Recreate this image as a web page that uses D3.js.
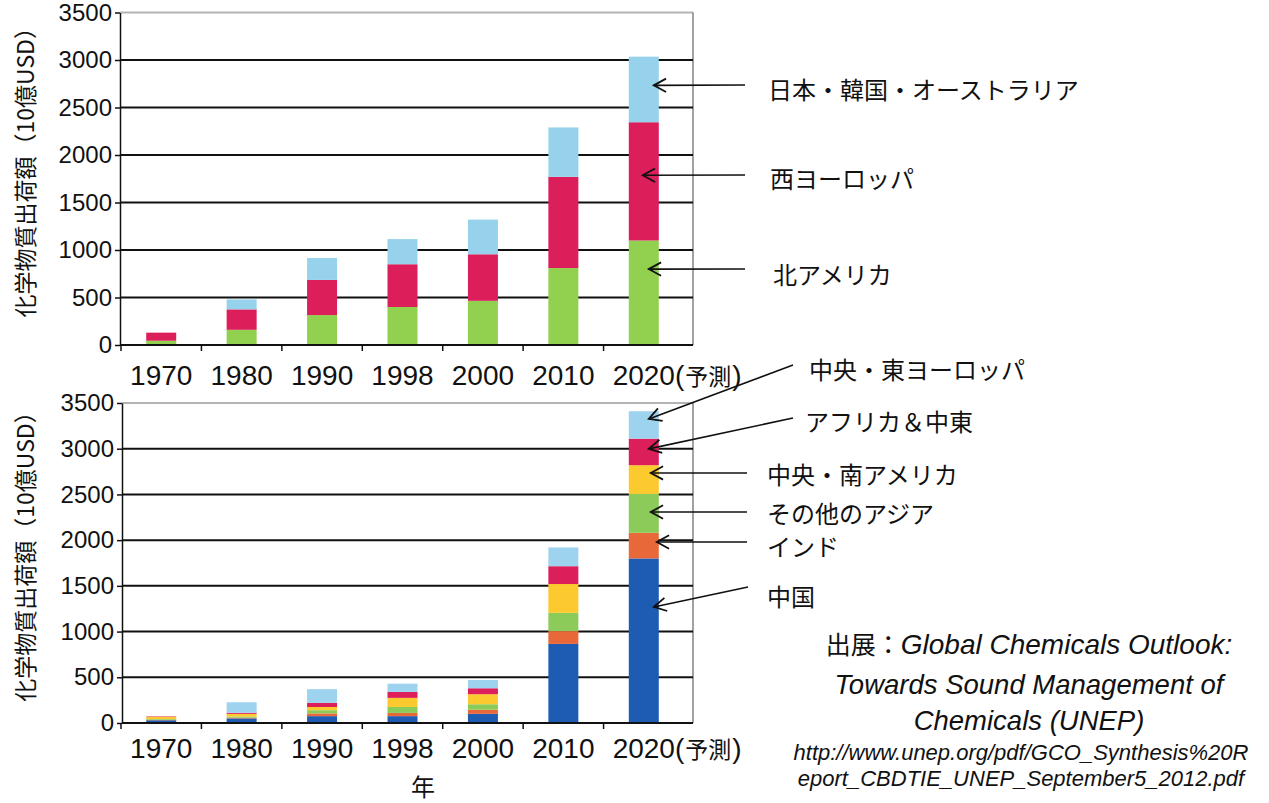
<!DOCTYPE html>
<html>
<head>
<meta charset="utf-8">
<script src="https://cdn.jsdelivr.net/npm/d3@7"></script>
<style>
  body { margin: 0; background: #fff; }
  text { font-family: "Liberation Sans", Arial, "Noto Sans CJK JP", sans-serif; fill: #111; }
  .jp { font-family: "Noto Sans CJK JP", sans-serif; }
</style>
</head>
<body>
<script>
// categories and ticks
const years = ['1970', '1980', '1990', '1998', '2000', '2010', '2020(予測)'];
const yTicks = [0, 500, 1000, 1500, 2000, 2500, 3000, 3500];

// upper chart: developed regions (10億USD)
const topSeries = ['北アメリカ', '西ヨーロッパ', '日本・韓国・オーストラリア'];
const northAmerica = [45, 160, 315, 400, 465, 810, 1100];
const westernEurope = [85, 215, 370, 450, 490, 960, 1245];
const japanKoreaAustralia = [0, 105, 230, 265, 365, 520, 690];

// lower chart: emerging regions (10億USD)
const bottomSeries = ['中国', 'インド', 'その他のアジア', '中央・南アメリカ', 'アフリカ＆中東', '中央・東ヨーロッパ'];
const china = [30, 50, 75, 75, 100, 865, 1800];
const india = [5, 8, 30, 35, 45, 140, 280];
const otherAsia = [8, 12, 35, 65, 60, 200, 425];
const latinAmerica = [25, 30, 35, 100, 110, 315, 315];
const africaMiddleEast = [5, 12, 45, 65, 65, 195, 290];
const centralEastEurope = [0, 115, 150, 90, 90, 205, 300];

const yTitle = '化学物質出荷額（10億USD）';

const svg = d3.select('body')
  .append('svg')
  .attr('width', 1269)
  .attr('height', 803);

const x = d3.scaleBand().domain(years).range([121, 684]);
const frameRight = 693;
const barWidth = 30;

function drawPanel({ axisX, top, bottom, keys, values, colors, labelY }) {
  const y = d3.scaleLinear().domain([0, 3500]).range([bottom, top]);
  const g = svg.append('g');

  const rows = years.map((yr, i) => {
    const r = { year: yr };
    keys.forEach((k, j) => { r[k] = values[j][i]; });
    return r;
  });
  const stacked = d3.stack().keys(keys)(rows);

  // frame
  g.append('line')
    .attr('x1', axisX).attr('x2', frameRight)
    .attr('y1', y(3500)).attr('y2', y(3500))
    .style('stroke', '#b4b4b4').style('stroke-width', 2);
  g.append('line')
    .attr('x1', frameRight).attr('x2', frameRight)
    .attr('y1', y(3500)).attr('y2', y(0))
    .style('stroke', '#444').style('stroke-width', 1);

  // gridlines
  g.selectAll('.grid')
    .data(yTicks.filter(t => t > 0 && t < 3500))
    .join('line')
    .attr('class', 'grid')
    .attr('x1', axisX).attr('x2', frameRight)
    .attr('y1', d => y(d)).attr('y2', d => y(d))
    .style('stroke', '#111').style('stroke-width', 2);

  // bars
  g.selectAll('.layer')
    .data(stacked)
    .join('g')
    .attr('class', 'layer')
    .style('fill', (d, i) => colors[i])
    .selectAll('rect')
    .data(d => d)
    .join('rect')
    .attr('x', d => x(d.data.year) + x.bandwidth() / 2 - barWidth / 2)
    .attr('width', barWidth)
    .attr('y', d => y(d[1]))
    .attr('height', d => y(d[0]) - y(d[1]));

  // y axis
  const yAxis = d3.axisLeft(y)
    .tickValues(yTicks)
    .tickFormat(d3.format('d'))
    .tickSize(5)
    .tickSizeOuter(0)
    .tickPadding(3);
  const ya = g.append('g')
    .attr('transform', `translate(${axisX},0)`)
    .call(yAxis);
  ya.select('.domain').style('stroke', '#111').style('stroke-width', 1.5);
  ya.selectAll('.tick line').style('stroke', '#111').style('stroke-width', 1.5);
  ya.selectAll('.tick text')
    .style('font-size', '24px')
    .style('font-family', '"Liberation Sans", Arial, sans-serif')
    .style('fill', '#111');

  // x axis baseline + ticks at band edges
  g.append('line')
    .attr('x1', axisX).attr('x2', frameRight)
    .attr('y1', y(0)).attr('y2', y(0))
    .style('stroke', '#111').style('stroke-width', 2);
  g.selectAll('.xtick')
    .data(years)
    .join('line')
    .attr('class', 'xtick')
    .attr('x1', d => x(d)).attr('x2', d => x(d))
    .attr('y1', y(0)).attr('y2', y(0) + 6)
    .style('stroke', '#111').style('stroke-width', 1.5);

  // x labels, the year part centred under its bar
  years.forEach(yr => {
    const cx = x(yr) + x.bandwidth() / 2;
    const t = g.append('text')
      .attr('y', labelY)
      .style('font-size', '28px');
    const m = yr.match(/^(\d+)(\()?([^)]*)?(\))?$/);
    t.append('tspan').text(m[1]);
    if (m[2]) {
      t.append('tspan').text('(');
      t.append('tspan').attr('class', 'jp').style('font-size', '23px').attr('dx', 1).text(m[3]);
      t.append('tspan').attr('dx', 1).text(')');
    }
    const w = t.node().getSubStringLength(0, m[1].length);
    t.attr('x', cx - w / 2);
  });

  // y title
  const midY = (y(3500) + y(0)) / 2 - 12;
  g.append('text')
    .attr('class', 'jp')
    .attr('transform', `translate(24,${midY}) rotate(-90)`)
    .attr('text-anchor', 'middle')
    .attr('dominant-baseline', 'central')
    .style('font-size', '23px')
    .text(yTitle);

  return y;
}

function arrow(g, x1, y1, x2, y2) {
  g.append('line')
    .attr('x1', x1).attr('y1', y1).attr('x2', x2).attr('y2', y2)
    .style('stroke', '#111').style('stroke-width', 1.6);
  const a = Math.atan2(y1 - y2, x1 - x2);
  const len = 14, spread = 0.5;
  const head = [
    [x2 + len * Math.cos(a - spread), y2 + len * Math.sin(a - spread)],
    [x2, y2],
    [x2 + len * Math.cos(a + spread), y2 + len * Math.sin(a + spread)]
  ];
  g.append('path')
    .attr('d', d3.line()(head))
    .style('fill', 'none').style('stroke', '#111').style('stroke-width', 1.8);
}

function annotate(y, keys, notes) {
  const g = svg.append('g');
  const last = years[years.length - 1];
  const cx = x(last) + x.bandwidth() / 2;
  notes.forEach(n => {
    arrow(g, n.sx, n.sy, cx + n.dx, y(n.tipV));
    g.append('text')
      .attr('class', 'jp')
      .attr('x', n.lx).attr('y', n.ly)
      .attr('dominant-baseline', 'central')
      .style('font-size', '24px')
      .text(keys[n.k]);
  });
}

const yTop = drawPanel({
  axisX: 120, top: 12.5, bottom: 345,
  keys: topSeries,
  values: [northAmerica, westernEurope, japanKoreaAustralia],
  colors: ['#92d050', '#dc1e5a', '#96d2ec'],
  labelY: 385
});

const yBottom = drawPanel({
  axisX: 122, top: 403, bottom: 723,
  keys: bottomSeries,
  values: [china, india, otherAsia, latinAmerica, africaMiddleEast, centralEastEurope],
  colors: ['#1e5cb3', '#e8683a', '#8ccb5a', '#fcc92e', '#dc1e5a', '#9ed3ef'],
  labelY: 758
});

annotate(yTop, topSeries, [
  { k: 2, tipV: 2733, dx: 10, sx: 745, sy: 85, lx: 768, ly: 88 },
  { k: 1, tipV: 1787, dx: -1, sx: 745, sy: 175, lx: 770, ly: 177 },
  { k: 0, tipV: 799, dx: 5, sx: 745, sy: 269, lx: 773, ly: 273 }
]);

annotate(yBottom, bottomSeries, [
  { k: 5, tipV: 3326, dx: 5, sx: 793, sy: 365, lx: 809, ly: 368 },
  { k: 4, tipV: 2998, dx: 5, sx: 793, sy: 418, lx: 805, ly: 420 },
  { k: 3, tipV: 2735, dx: 7, sx: 747, sy: 473, lx: 767, ly: 473 },
  { k: 2, tipV: 2308, dx: 7, sx: 747, sy: 512, lx: 767, ly: 512 },
  { k: 1, tipV: 1980, dx: 13, sx: 747, sy: 542, lx: 767, ly: 545 },
  { k: 0, tipV: 1269, dx: 10, sx: 748, sy: 587, lx: 767, ly: 595 }
]);

// x axis title
svg.append('text')
  .attr('class', 'jp')
  .attr('x', 423).attr('y', 785)
  .attr('text-anchor', 'middle')
  .attr('dominant-baseline', 'central')
  .style('font-size', '24px')
  .text('年');

// source note
const src = svg.append('g').attr('transform', 'translate(1029,0)');
const l1 = src.append('text').attr('y', 654).attr('text-anchor', 'middle').style('font-size', '28px');
l1.append('tspan').attr('class', 'jp').style('font-size', '25px').text('出展：');
l1.append('tspan').style('font-style', 'italic').text('Global Chemicals Outlook:');
src.append('text').attr('y', 694).attr('text-anchor', 'middle')
  .style('font-size', '27.5px').style('font-style', 'italic')
  .text('Towards Sound Management of');
src.append('text').attr('y', 730).attr('text-anchor', 'middle')
  .style('font-size', '27.5px').style('font-style', 'italic')
  .text('Chemicals (UNEP)');
src.append('text').attr('x', -8).attr('y', 760).attr('text-anchor', 'middle')
  .style('font-size', '22px').style('font-style', 'italic')
  .text('http://www.unep.org/pdf/GCO_Synthesis%20R');
src.append('text').attr('x', -8).attr('y', 786).attr('text-anchor', 'middle')
  .style('font-size', '22px').style('font-style', 'italic')
  .text('eport_CBDTIE_UNEP_September5_2012.pdf');
</script>
</body>
</html>
